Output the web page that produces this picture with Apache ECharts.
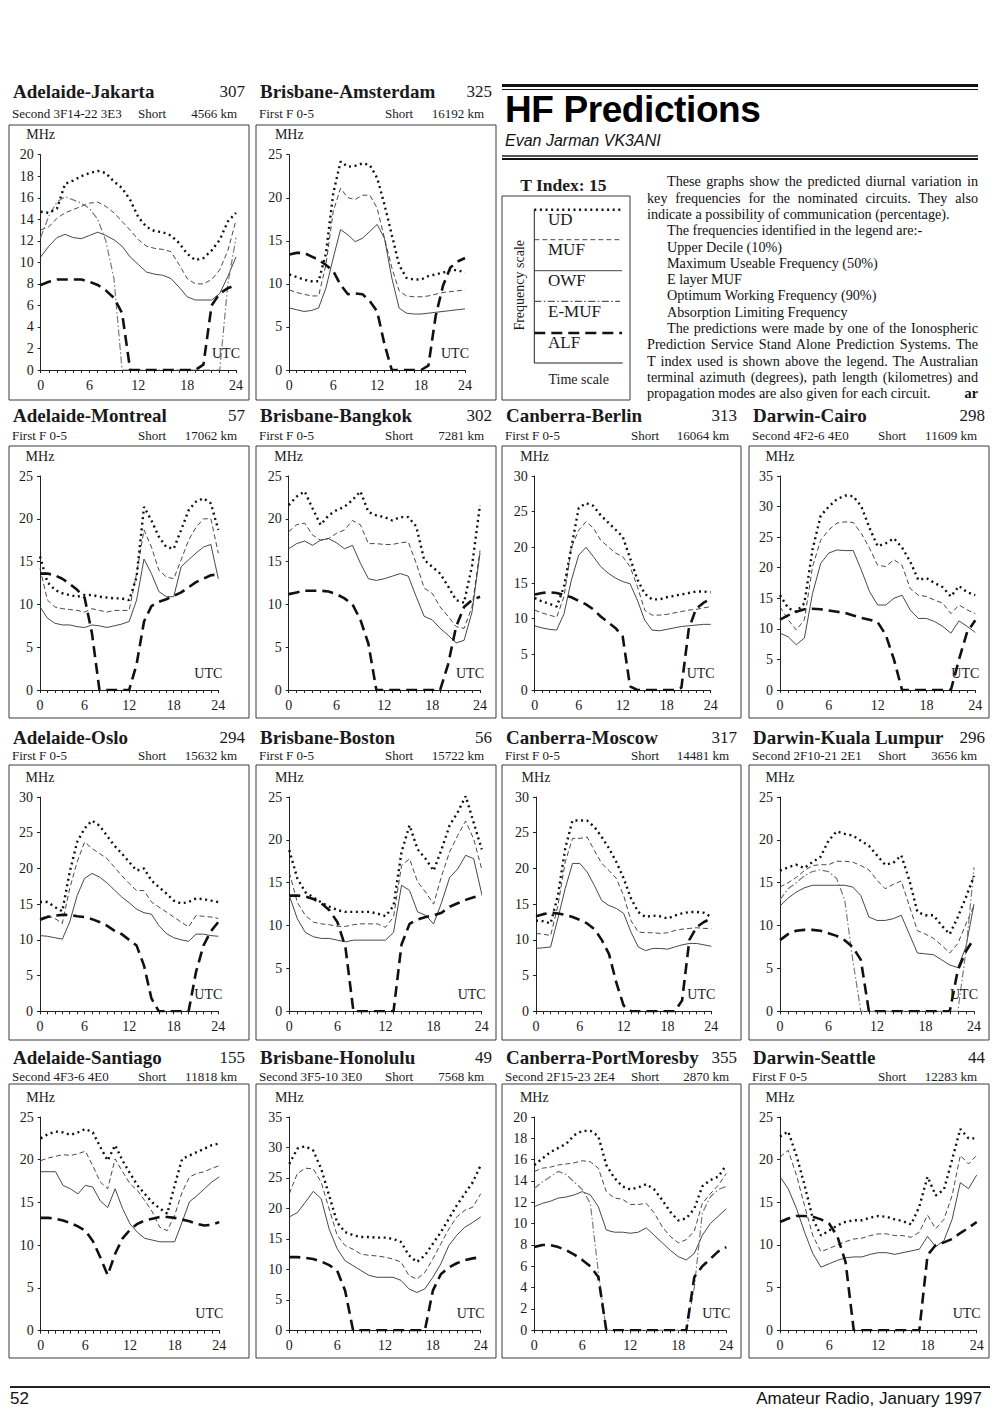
<!DOCTYPE html>
<html>
<head>
<meta charset="utf-8">
<script src="https://cdn.jsdelivr.net/npm/echarts@6/dist/echarts.min.js"></script>
<style>
html,body{margin:0;padding:0;background:#fff;}
#page{position:relative;width:1000px;height:1412px;overflow:hidden;background:#fff;}
#chart{position:absolute;left:0;top:0;width:1000px;height:1412px;}
.t{position:absolute;white-space:nowrap;font-family:"Liberation Serif","Times New Roman",serif;font-size:14.2px;line-height:16px;color:#111;}
.j{text-align:justify;text-align-last:justify;}
.rule{position:absolute;background:#111;}
</style>
</head>
<body>
<div id="page">
<div id="chart"></div>
<div class="rule" style="left:502px;top:84px;width:476px;height:3px;"></div>
<div class="rule" style="left:502px;top:88.5px;width:476px;height:1.5px;"></div>
<div class="t" style="left:505px;top:91px;font-family:'Liberation Sans',Arial,sans-serif;font-weight:bold;font-size:37px;line-height:37px;letter-spacing:-0.4px;color:#000;">HF Predictions</div>
<div class="t" style="left:505px;top:133px;font-family:'Liberation Sans',Arial,sans-serif;font-style:italic;font-size:16px;line-height:16px;color:#111;">Evan Jarman VK3ANI</div>
<div class="rule" style="left:502px;top:155px;width:476px;height:1.5px;background:#555;"></div>
<div class="rule" style="left:502px;top:157.5px;width:476px;height:2.5px;"></div>

<div class="t j" style="left:667px;width:311px;top:173.3px;">These graphs show the predicted diurnal variation in</div>
<div class="t j" style="left:647px;width:331px;top:189.6px;">key frequencies for the nominated circuits. They also</div>
<div class="t" style="left:647px;top:205.9px;">indicate a possibility of communication (percentage).</div>
<div class="t" style="left:667px;top:222.2px;">The frequencies identified in the legend are:-</div>
<div class="t" style="left:667px;top:238.5px;">Upper Decile (10%)</div>
<div class="t" style="left:667px;top:254.8px;">Maximum Useable Frequency (50%)</div>
<div class="t" style="left:667px;top:271.1px;">E layer MUF</div>
<div class="t" style="left:667px;top:287.4px;">Optimum Working Frequency (90%)</div>
<div class="t" style="left:667px;top:303.7px;">Absorption Limiting Frequency</div>
<div class="t j" style="left:667px;width:311px;top:320px;">The predictions were made by one of the Ionospheric</div>
<div class="t j" style="left:647px;width:331px;top:336.3px;">Prediction Service Stand Alone Prediction Systems. The</div>
<div class="t j" style="left:647px;width:331px;top:352.6px;">T index used is shown above the legend. The Australian</div>
<div class="t j" style="left:647px;width:331px;top:368.9px;">terminal azimuth (degrees), path length (kilometres) and</div>
<div class="t" style="left:647px;top:385.2px;">propagation modes are also given for each circuit.</div>
<div class="t" style="left:958px;width:20px;text-align:right;top:385.2px;font-weight:bold;">ar</div>

<div class="rule" style="left:10px;top:1386px;width:980px;height:2px;background:#222;"></div>
<div class="t" style="left:10px;top:1390px;font-family:'Liberation Sans',Arial,sans-serif;font-size:17px;line-height:18px;">52</div>
<div class="t" style="left:682px;width:300px;text-align:right;top:1390px;font-family:'Liberation Sans',Arial,sans-serif;font-size:17px;line-height:18px;">Amateur Radio, January 1997</div>
</div>
<script>
// ---------------- DATA ----------------
const hours = [0,1,2,3,4,5,6,7,8,9,10,11,12,13,14,15,16,17,18,19,20,21,22,23,24];

const jakartaUD  = [14.7,14.6,15.0,17.3,17.6,18.0,18.3,18.5,18.3,17.5,16.9,15.8,14.2,13.3,12.9,12.8,12.5,11.8,10.8,10.2,10.4,11.1,12.1,13.8,14.6];
const jakartaMUF = [13.0,13.3,14.1,14.6,14.9,15.2,15.5,15.6,15.2,14.6,13.8,13.0,12.1,11.5,11.3,11.2,11.0,9.8,8.5,8.0,8.0,8.4,9.3,11.1,13.9];
const jakartaOWF = [10.5,11.5,12.3,12.6,12.3,12.2,12.5,12.8,12.5,12.1,11.5,10.5,9.8,9.1,8.9,8.8,8.5,7.7,6.8,6.5,6.5,6.5,7.1,8.7,10.5];
const jakartaEMUF= [12.3,14.3,15.6,16.1,15.8,15.5,15.0,14.0,12.0,8.5,0,0,0,0,0,0,0,0,0,0,0,0,0,8.0,12.3];
const jakartaALF = [7.9,8.2,8.4,8.4,8.4,8.4,8.2,7.9,7.4,6.7,5.3,0,0,0,0,0,0,0,0,0,0.5,6.0,7.1,7.6,7.9];

const amsterdamUD  = [11.1,10.8,10.5,10.3,10.3,13.5,20.5,24.2,23.6,23.7,24.0,23.8,22.3,19.2,15.7,12.2,10.7,10.5,10.5,10.9,11.1,11.3,11.6,11.6,11.3];
const amsterdamMUF = [9.3,9.0,8.8,8.6,8.6,12.2,18.4,21.1,20.0,19.8,20.3,20.3,18.8,15.3,11.9,9.2,8.6,8.5,8.5,8.6,8.8,9.0,9.1,9.2,9.3];
const amsterdamOWF = [7.2,7.0,6.8,6.9,7.2,9.5,13.0,16.3,15.7,14.9,15.3,16.1,16.9,15.3,10.7,7.2,6.6,6.5,6.5,6.6,6.7,6.8,6.9,7.0,7.1];
const amsterdamALF = [13.4,13.6,13.6,13.2,12.8,12.2,11.5,9.9,8.8,8.9,8.8,8.0,6.8,3.0,0,0,0,0,0,0.5,6.3,9.8,11.9,12.6,13.0];

const montrealUD  = [15.6,12.6,11.7,11.3,11.1,10.9,11.1,11.1,10.9,10.8,10.7,10.7,10.5,13.2,21.4,19.8,17.9,16.7,16.5,18.7,21.0,22.0,22.4,21.8,18.7];
const montrealMUF = [14.2,10.5,9.7,9.5,9.4,9.3,9.1,9.5,9.3,9.1,9.3,9.3,9.3,13.6,18.7,16.7,14.0,13.2,13.0,15.2,17.5,19.0,20.0,20.0,16.0];
const montrealOWF = [9.7,8.4,7.8,7.6,7.6,7.4,7.3,7.6,7.5,7.3,7.5,7.7,8.0,10.5,15.3,13.6,11.5,10.9,10.9,14.4,15.2,16.0,16.7,17.0,13.0];
const montrealALF = [13.6,13.6,13.4,13.0,12.4,11.7,10.8,6.6,0,0,0,0,0,3.0,8.0,9.8,10.3,10.6,11.0,11.4,12.0,12.6,13.0,13.4,13.5];

const bangkokUD  = [21.6,22.6,23.2,21.2,19.3,20.4,21.0,21.4,22.2,23.2,20.8,20.4,20.2,19.8,20.2,20.2,19.1,15.2,14.4,13.6,12.1,10.5,10.2,14.5,21.6];
const bangkokMUF = [18.5,19.3,19.5,18.1,17.5,17.7,18.3,18.7,19.8,19.3,17.1,17.1,17.0,17.0,17.2,17.3,14.8,11.9,11.3,9.7,8.6,7.4,7.2,9.7,16.3];
const bangkokOWF = [16.5,17.1,17.4,16.9,17.5,17.7,17.2,16.5,16.9,14.8,13.0,12.8,13.0,13.3,13.6,13.3,10.9,8.6,8.2,7.2,6.4,5.5,5.8,9.1,16.0];
const bangkokALF = [11.2,11.4,11.6,11.6,11.6,11.5,11.2,10.7,10.0,8.2,5.4,0,0,0,0,0,0,0,0,0,3.0,7.4,9.7,10.5,10.9];

const berlinUD  = [12.9,12.4,12.1,11.7,14.5,20.0,25.5,26.2,25.8,24.5,23.5,22.5,21.5,18.5,15.5,13.5,12.7,12.7,13.0,13.2,13.4,13.6,13.8,13.8,13.7];
const berlinMUF = [11.2,10.8,10.5,10.2,13.1,20.0,22.4,23.6,22.7,21.0,20.1,19.2,18.7,17.3,14.5,11.2,10.5,10.5,10.6,10.8,11.0,11.2,11.3,11.5,11.7];
const berlinOWF = [9.0,8.7,8.5,8.4,10.7,15.4,18.9,20.0,18.7,17.3,16.4,15.7,15.2,14.9,12.6,9.8,8.4,8.3,8.5,8.7,8.9,9.0,9.1,9.2,9.2];
const berlinALF = [13.4,13.6,13.7,13.6,13.3,13.0,12.5,12.0,11.3,10.3,9.5,8.7,7.5,0.5,0,0,0,0,0,0,0.3,8.5,11.4,12.2,12.8];

const cairoUD  = [15.5,13.4,12.8,14.2,23.0,28.5,30.0,31.2,31.8,31.7,30.0,26.5,23.5,24.0,24.8,23.3,21.0,18.0,18.3,17.5,16.8,15.3,17.0,16.0,15.5];
const cairoMUF = [13.6,11.5,9.8,11.5,20.2,24.5,26.2,27.3,27.5,27.4,25.6,23.2,20.4,20.2,21.3,20.4,16.6,15.5,15.3,14.7,14.2,12.5,13.9,13.1,12.5];
const cairoOWF = [9.3,8.7,7.4,8.5,15.8,20.7,22.4,22.9,22.8,22.8,19.6,16.1,13.9,13.9,15.0,15.5,13.1,11.7,11.7,11.2,10.4,9.3,11.3,10.4,9.4];
const cairoALF = [11.5,12.2,12.8,13.2,13.3,13.2,13.0,12.8,12.6,12.2,11.8,11.5,11.1,9.0,5.0,0,0,0,0,0,0,0,5.0,9.5,11.4];

const osloUD  = [15.3,15.3,14.6,14.0,19.5,23.7,25.6,26.7,26.0,24.6,23.2,22.1,20.9,19.7,20.0,18.3,17.4,16.5,15.5,15.1,15.3,15.8,15.7,15.5,15.3];
const osloMUF = [13.0,13.4,13.0,12.3,17.2,20.9,23.7,22.8,22.1,21.4,20.2,19.0,17.9,16.9,16.9,15.3,14.6,13.9,13.2,12.5,11.8,13.4,13.3,13.2,13.0];
const osloOWF = [10.6,10.5,10.3,10.1,12.5,16.2,18.6,19.3,18.8,18.0,17.0,16.0,15.2,14.3,13.8,13.6,12.0,10.9,10.3,10.0,9.8,10.8,10.8,10.6,10.5];
const osloALF = [12.8,13.2,13.4,13.5,13.5,13.3,13.2,12.9,12.5,12.0,11.3,10.8,10.0,9.2,6.4,1.8,0,0,0,0,0,5.5,9.2,11.2,12.5];

const bostonUD  = [18.8,15.5,13.9,13.3,12.7,12.2,11.8,11.6,11.6,11.6,11.6,11.4,11.1,12.3,18.6,21.7,18.9,17.8,16.4,18.9,21.7,23.2,25.1,22.0,18.9];
const bostonMUF = [16.2,12.7,11.2,10.4,10.2,10.1,9.9,9.9,10.1,10.2,10.2,10.2,9.8,11.0,17.0,17.8,15.1,13.9,12.5,15.8,18.6,20.5,22.2,20.1,16.6];
const bostonOWF = [13.5,10.8,9.2,8.7,8.5,8.5,8.3,8.1,8.3,8.3,8.3,8.3,8.3,9.2,14.7,14.1,11.6,11.2,10.2,12.7,15.6,16.6,18.2,17.8,13.7];
const bostonALF = [13.5,13.5,13.4,13.1,12.6,11.8,10.4,7.5,0,0,0,0,0,0,7.8,10.2,10.7,11.0,11.2,11.5,12.2,12.6,13.0,13.3,13.6];

const moscowUD  = [12.7,12.6,12.3,16.2,22.8,26.7,26.7,26.7,25.8,24.4,22.8,20.9,18.6,15.8,13.9,13.2,13.4,13.3,13.0,13.4,13.7,13.9,13.9,13.8,13.2];
const moscowMUF = [10.9,10.8,10.6,14.8,20.9,24.2,24.2,24.4,22.5,20.7,19.7,18.6,16.2,12.7,11.1,11.0,11.0,10.9,11.0,11.3,11.5,11.6,11.7,11.6,11.6];
const moscowOWF = [8.8,8.9,9.0,13.0,17.2,20.7,20.7,19.5,17.6,15.5,14.8,14.4,13.7,11.1,9.0,8.5,8.8,8.8,8.7,9.0,9.3,9.5,9.5,9.3,9.1];
const moscowALF = [13.3,13.6,13.8,13.7,13.5,13.2,12.8,12.3,11.5,10.0,8.0,4.0,0.8,0,0,0,0,0,0,0,1.5,10.0,11.8,12.5,13.0];

const kualaUD  = [16.4,16.8,17.1,16.7,17.4,18.0,19.9,21.0,20.7,20.5,19.9,19.3,18.2,17.1,17.3,18.2,15.3,11.6,11.2,11.2,10.0,9.0,11.0,13.3,15.8];
const kualaMUF = [14.5,15.0,15.6,16.4,17.0,17.1,17.1,17.5,17.5,17.4,17.0,16.5,15.3,14.3,14.8,15.2,12.3,9.4,9.0,8.5,7.7,6.8,7.9,10.2,12.3];
const kualaOWF = [12.3,13.2,13.9,14.4,14.7,14.7,14.7,14.7,14.7,14.5,13.5,11.0,10.6,10.6,10.8,11.2,9.0,6.8,6.7,6.6,6.0,5.4,5.1,7.5,12.5];
const kualaEMUF= [13.0,14.3,15.0,15.8,16.3,16.5,16.3,15.5,13.0,6.0,0,0,0,0,0,0,0,0,0,0,0,0,0,7.0,16.8];
const kualaALF = [8.3,9.0,9.4,9.5,9.5,9.4,9.1,8.8,8.3,7.5,6.0,0,0,0,0,0,0,0,0,0,0,0,4.8,7.0,8.5];

const santiagoUD  = [22.5,23.0,23.3,23.2,22.9,23.2,23.6,23.2,21.5,19.9,21.7,19.9,18.4,17.0,16.0,15.0,14.3,13.7,17.0,20.1,20.5,20.9,21.3,21.7,21.9];
const santiagoMUF = [19.9,20.2,20.4,20.6,20.5,20.7,21.0,19.3,17.4,16.6,20.1,18.6,17.2,16.4,15.2,13.9,12.1,11.7,13.5,16.2,18.0,18.4,18.6,19.0,19.3];
const santiagoOWF = [18.6,18.6,18.6,17.0,16.6,16.0,17.0,16.8,15.2,14.4,16.6,14.3,12.5,11.5,10.8,10.6,10.4,10.4,10.4,12.7,15.1,15.8,16.6,17.4,18.0];
const santiagoALF = [13.2,13.2,13.1,12.9,12.6,12.2,11.7,10.5,8.6,6.5,9.0,10.8,11.8,12.5,12.9,13.1,13.3,13.3,13.2,13.0,12.8,12.5,12.3,12.4,12.7];

const honoluluUD  = [27.3,29.8,30.2,29.5,26.5,22.1,17.7,16.1,15.6,15.3,15.3,15.2,15.2,15.0,14.5,12.3,11.2,12.3,14.2,16.1,18.3,20.5,22.4,24.3,27.1];
const honoluluMUF = [22.4,25.7,26.6,26.5,24.3,19.9,15.6,13.9,13.3,12.5,12.3,12.2,12.0,11.7,11.2,9.0,8.4,9.5,11.7,14.2,16.6,18.6,19.7,20.2,22.4];
const honoluluOWF = [18.6,19.3,21.0,22.8,21.6,16.6,13.4,11.4,10.6,9.8,9.0,8.7,8.7,8.7,8.2,6.8,6.2,6.8,8.7,10.9,13.9,15.6,16.9,17.7,18.6];
const honoluluALF = [12.0,12.0,11.9,11.7,11.3,10.7,9.8,6.5,0,0,0,0,0,0,0,0,0,0,6.5,9.2,10.3,11.0,11.5,11.8,12.0];

const moresbyUD  = [15.5,16.1,16.7,17.1,17.5,18.3,18.7,18.7,18.2,15.5,14.3,13.5,13.2,13.4,13.7,13.2,12.2,11.1,10.3,10.5,11.4,13.5,14.1,14.4,15.5];
const moresbyMUF = [14.9,15.2,15.3,15.5,15.6,15.7,15.9,15.8,15.2,13.0,12.4,12.3,11.8,11.8,11.9,11.0,9.7,8.8,8.2,8.5,9.3,11.9,12.8,13.6,14.7];
const moresbyOWF = [11.6,11.9,12.1,12.4,12.5,12.7,13.0,12.7,11.6,9.4,9.2,9.2,9.1,9.2,9.6,8.9,8.2,7.5,6.9,6.6,7.2,8.9,10.0,10.7,11.4];
const moresbyEMUF= [13.3,13.9,14.4,14.9,14.6,13.9,13.2,11.9,5.5,0,0,0,0,0,0,0,0,0,0,0,4.0,11.0,12.5,13.2,13.5];
const moresbyALF = [7.8,8.0,8.0,7.8,7.5,7.1,6.6,6.0,5.0,0,0,0,0,0,0,0,0,0,0,0,5.0,6.0,6.7,7.4,7.8];

const seattleUD  = [22.7,23.3,20.5,17.0,13.1,11.1,11.7,12.3,12.7,12.9,12.9,13.2,13.4,13.3,13.0,12.8,12.4,14.5,18.0,15.8,16.5,20.0,23.6,22.5,22.5];
const seattleMUF = [20.3,21.1,18.2,14.6,11.1,9.2,9.6,10.0,10.4,10.7,10.8,11.1,11.3,11.3,11.1,11.1,10.9,11.5,13.5,11.9,13.0,15.8,20.5,19.5,20.5];
const seattleOWF = [18.0,16.6,14.3,11.5,9.0,7.4,7.8,8.2,8.5,8.6,8.6,8.9,9.1,9.1,8.9,9.1,9.3,9.5,11.0,9.8,10.5,13.0,17.3,16.6,18.2];
const seattleALF = [12.7,13.1,13.4,13.4,13.3,13.0,12.5,11.0,8.0,0,0,0,0,0,0,0,0,0,8.8,10.0,10.3,10.7,11.4,12.0,12.7];

const circuits = [
  {name:'Adelaide-Jakarta', az:'307', mode:'Second 3F14-22 3E3', dist:'4566 km', yMax:20, yStep:2, ud:jakartaUD, muf:jakartaMUF, owf:jakartaOWF, emuf:jakartaEMUF, alf:jakartaALF},
  {name:'Brisbane-Amsterdam', az:'325', mode:'First F 0-5', dist:'16192 km', yMax:25, yStep:5, ud:amsterdamUD, muf:amsterdamMUF, owf:amsterdamOWF, alf:amsterdamALF},
  {name:'Adelaide-Montreal', az:'57', mode:'First F 0-5', dist:'17062 km', yMax:25, yStep:5, ud:montrealUD, muf:montrealMUF, owf:montrealOWF, alf:montrealALF},
  {name:'Brisbane-Bangkok', az:'302', mode:'First F 0-5', dist:'7281 km', yMax:25, yStep:5, ud:bangkokUD, muf:bangkokMUF, owf:bangkokOWF, alf:bangkokALF},
  {name:'Canberra-Berlin', az:'313', mode:'First F 0-5', dist:'16064 km', yMax:30, yStep:5, ud:berlinUD, muf:berlinMUF, owf:berlinOWF, alf:berlinALF},
  {name:'Darwin-Cairo', az:'298', mode:'Second 4F2-6 4E0', dist:'11609 km', yMax:35, yStep:5, ud:cairoUD, muf:cairoMUF, owf:cairoOWF, alf:cairoALF},
  {name:'Adelaide-Oslo', az:'294', mode:'First F 0-5', dist:'15632 km', yMax:30, yStep:5, ud:osloUD, muf:osloMUF, owf:osloOWF, alf:osloALF},
  {name:'Brisbane-Boston', az:'56', mode:'First F 0-5', dist:'15722 km', yMax:25, yStep:5, ud:bostonUD, muf:bostonMUF, owf:bostonOWF, alf:bostonALF},
  {name:'Canberra-Moscow', az:'317', mode:'First F 0-5', dist:'14481 km', yMax:30, yStep:5, ud:moscowUD, muf:moscowMUF, owf:moscowOWF, alf:moscowALF},
  {name:'Darwin-Kuala Lumpur', az:'296', mode:'Second 2F10-21 2E1', dist:'3656 km', yMax:25, yStep:5, ud:kualaUD, muf:kualaMUF, owf:kualaOWF, emuf:kualaEMUF, alf:kualaALF},
  {name:'Adelaide-Santiago', az:'155', mode:'Second 4F3-6 4E0', dist:'11818 km', yMax:25, yStep:5, ud:santiagoUD, muf:santiagoMUF, owf:santiagoOWF, alf:santiagoALF},
  {name:'Brisbane-Honolulu', az:'49', mode:'Second 3F5-10 3E0', dist:'7568 km', yMax:35, yStep:5, ud:honoluluUD, muf:honoluluMUF, owf:honoluluOWF, alf:honoluluALF},
  {name:'Canberra-PortMoresby', az:'355', mode:'Second 2F15-23 2E4', dist:'2870 km', yMax:20, yStep:2, ud:moresbyUD, muf:moresbyMUF, owf:moresbyOWF, emuf:moresbyEMUF, alf:moresbyALF},
  {name:'Darwin-Seattle', az:'44', mode:'First F 0-5', dist:'12283 km', yMax:25, yStep:5, ud:seattleUD, muf:seattleMUF, owf:seattleOWF, alf:seattleALF}
];

// ---------------- LAYOUT ----------------
const colBox = [[9,249],[256,496],[502,741],[749,989]];
const rowBox = [[125,400],[446,718],[765,1040],[1084,1358]];
const rowTitleY = [[91,113],[415,435],[737,755],[1057,1076]];
const cells = [[0,0],[0,1],[1,0],[1,1],[1,2],[1,3],[2,0],[2,1],[2,2],[2,3],[3,0],[3,1],[3,2],[3,3]];
// plot rect: [x at 0h, x at 24h, y at top value, y at 0]
const plotRects = [
  [40.7,236,154.7,370],[289.3,465,154.7,370],
  [40,218.3,476,690],[288.7,480,476,690],[534.7,710.7,476,690],[780,975.3,476,690],
  [40,218.3,797,1011.3],[289.3,481.7,797,1011.3],[536,711.3,797,1011.3],[780,974,797,1011.3],
  [40.7,219.3,1117,1330.7],[289.3,480.7,1117,1330.3],[534.3,726.3,1117,1330.3],[780,976.7,1117,1330.3]
];

const SERIF = '"Liberation Serif","Times New Roman",serif';
const INK = '#1a1a1a';

const styles = {
  ud:   {color:'#111', width:2.4, type:[2,3.6], cap:'butt'},
  muf:  {color:'#333', width:0.9, type:[5,3]},
  owf:  {color:'#333', width:0.9, type:'solid'},
  emuf: {color:'#7a7a7a', width:1.2, type:[7,2.5,1.5,2.5]},
  alf:  {color:'#111', width:2.6, type:[11,6]}
};

function txt(x, y, text, font, align, valign, extra) {
  const el = {type:'text', x:x, y:y, silent:true, z:10,
    style:Object.assign({text:text, font:font, fill:INK, textAlign:align||'left', textVerticalAlign:valign||'middle', align:align||'left', verticalAlign:valign||'middle'}, extra||{})};
  return el;
}
function line(x1,y1,x2,y2,stroke,w,dash){
  return {type:'line', silent:true, z:10, shape:{x1:x1,y1:y1,x2:x2,y2:y2},
    style:{stroke:stroke, lineWidth:w, lineDash:dash||null, lineCap:'butt'}};
}

const grids = [], xAxes = [], yAxes = [], series = [], graphics = [];

circuits.forEach(function(c, i){
  const p = plotRects[i];
  const rc = cells[i];
  const bx = colBox[rc[1]], by = rowBox[rc[0]], ty = rowTitleY[rc[0]];
  grids.push({left:p[0], top:p[2], width:p[1]-p[0], height:p[3]-p[2], containLabel:false});
  xAxes.push({gridIndex:i, type:'value', min:0, max:24, interval:6,
    axisLine:{show:true, onZero:false, lineStyle:{color:'#222', width:1}},
    axisTick:{show:true, length:3, lineStyle:{color:'#222', width:1}},
    minorTick:{show:true, splitNumber:6, length:3, lineStyle:{color:'#222', width:1}},
    splitLine:{show:false}, minorSplitLine:{show:false},
    axisLabel:{fontFamily:SERIF, fontSize:14, color:INK, margin:8}});
  yAxes.push({gridIndex:i, type:'value', min:0, max:c.yMax, interval:c.yStep,
    axisLine:{show:true, onZero:false, lineStyle:{color:'#222', width:1}},
    axisTick:{show:true, length:3, lineStyle:{color:'#222', width:1}},
    splitLine:{show:false},
    axisLabel:{fontFamily:SERIF, fontSize:14, color:INK, margin:7}});
  const keys = ['owf','muf','emuf','ud','alf'];
  keys.forEach(function(k){
    if (!c[k]) return;
    series.push({type:'line', name:k.toUpperCase(), xAxisIndex:i, yAxisIndex:i,
      data: hours.map(function(h, j){ return [h, c[k][j]]; }),
      showSymbol:false, symbol:'none', silent:true, animation:false,
      lineStyle: styles[k], z: (k==='alf'||k==='ud') ? 4 : 3});
  });
  // box frame
  graphics.push({type:'rect', silent:true, z:1, shape:{x:bx[0], y:by[0], width:bx[1]-bx[0], height:by[1]-by[0]},
    style:{fill:null, stroke:'#3a3a3a', lineWidth:1}});
  // titles
  graphics.push(txt(bx[0]+4, ty[0], c.name, 'bold 19px ' + SERIF, 'left', 'middle'));
  graphics.push(txt(bx[1]-4, ty[0], c.az, '17px ' + SERIF, 'right', 'middle'));
  graphics.push(txt(bx[0]+3, ty[1], c.mode, '13px ' + SERIF, 'left', 'middle'));
  graphics.push(txt(bx[0]+129, ty[1], 'Short', '13px ' + SERIF, 'left', 'middle'));
  graphics.push(txt(bx[1]-12, ty[1], c.dist, '13px ' + SERIF, 'right', 'middle'));
  // MHz & UTC
  graphics.push(txt(p[0], p[2]-20, 'MHz', '14px ' + SERIF, 'center', 'middle'));
  graphics.push(txt(p[1]+4, p[3]-17, 'UTC', '14px ' + SERIF, 'right', 'middle'));
});

// Legend panel
graphics.push(txt(563.3, 184.7, 'T Index: 15', 'bold 17.5px ' + SERIF, 'center', 'middle'));
graphics.push({type:'rect', silent:true, z:1, shape:{x:502, y:196, width:128, height:204}, style:{fill:null, stroke:'#3a3a3a', lineWidth:1}});
graphics.push(line(534.3,209.7,534.3,363,'#222',1));
graphics.push(line(534.3,363,622.7,363,'#222',1));
graphics.push(line(534.3,209.7,623,209.7,'#111',2.4,[2,3.6]));
graphics.push(line(534.3,239.7,620,239.7,'#333',0.9,[5,3]));
graphics.push(line(534.3,270.7,622,270.7,'#333',0.9,null));
graphics.push(line(534.3,301.3,620,301.3,'#555',1.2,[7,2.5,1.5,2.5]));
graphics.push(line(534.3,333,622,333,'#111',2.6,[11,6]));
graphics.push(txt(548, 219, 'UD', '17px ' + SERIF, 'left', 'middle'));
graphics.push(txt(548, 249.5, 'MUF', '17px ' + SERIF, 'left', 'middle'));
graphics.push(txt(548, 280.5, 'OWF', '17px ' + SERIF, 'left', 'middle'));
graphics.push(txt(548, 311, 'E-MUF', '17px ' + SERIF, 'left', 'middle'));
graphics.push(txt(548, 342, 'ALF', '17px ' + SERIF, 'left', 'middle'));
graphics.push(Object.assign(txt(519, 285.3, 'Frequency scale', '14px ' + SERIF, 'center', 'middle'), {rotation:Math.PI/2}));
graphics.push(txt(578.7, 379.5, 'Time scale', '14px ' + SERIF, 'center', 'middle'));

const chart = echarts.init(document.getElementById('chart'), null, {renderer:'svg', width:1000, height:1412});
chart.setOption({
  animation:false,
  backgroundColor:'transparent',
  grid:grids, xAxis:xAxes, yAxis:yAxes, series:series, graphic:graphics
});
</script>
</body>
</html>
